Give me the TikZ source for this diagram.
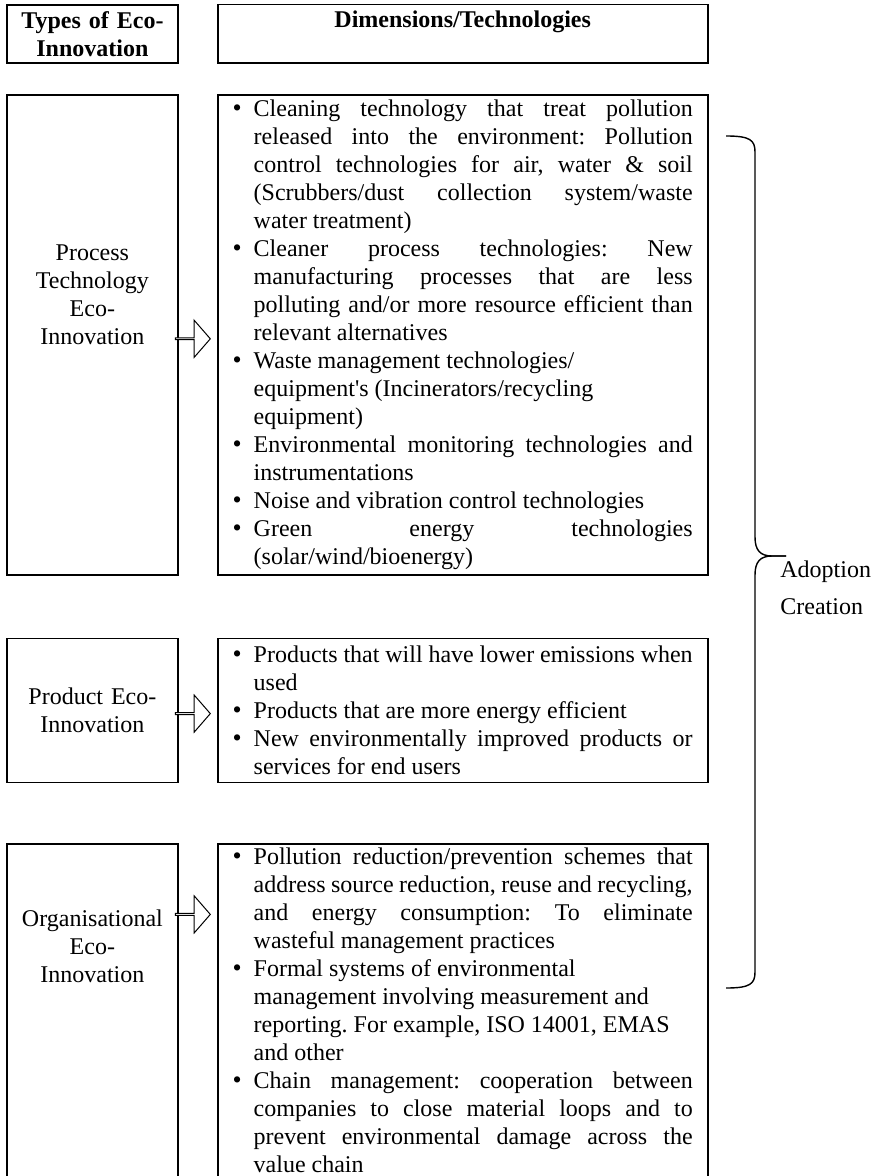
\documentclass[tikz,border=0pt]{standalone}
\usepackage{fontspec}
\setmainfont{Liberation Serif}
\usetikzlibrary{positioning,shapes.arrows}
\hyphenpenalty=10000
\exhyphenpenalty=10000
\tolerance=9999
\parindent=0pt
\frenchspacing
\tikzset{%
  typeBox/.style={%
    rectangle,
    draw=black,
    line width=0.9pt,
    text width=79.5pt,
    inner xsep=3pt,
    inner ysep=3pt,
    align=center
  },
  headBox/.style={%
    typeBox,
    minimum height=29pt,
    font=\fontsize{12pt}{14pt}\selectfont\bfseries
  },
  dimBox/.style={%
    rectangle,
    draw=black,
    line width=0.9pt,
    text width=230pt,
    inner xsep=7.5pt,
    inner ysep=2pt,
    align=justify
  },
  blockArrow/.style={%
    single arrow,
    draw=black,
    fill=white,
    line width=0.5pt,
    minimum height=17.5pt,
    minimum width=18.5pt,
    single arrow head extend=4.75pt,
    single arrow tip angle=98,
    inner sep=0pt
  },
  braceLine/.style={%
    line width=0.7pt,
    draw=black
  },
  sideLabel/.style={%
    anchor=west,
    inner sep=0pt
  }
}
\newcommand{\bulletItem}[1]{\hangindent=10.5pt\hangafter=1\noindent\makebox[10.5pt][l]{\smash{\fontsize{13pt}{14pt}\selectfont\textbullet}}#1\par}

\begin{document}
\begin{tikzpicture}[x=0.5pt,y=-0.5pt,font=\fontsize{12pt}{14pt}\selectfont]
  \useasboundingbox (0,0) rectangle (878,1176);

  % header row
  \node[headBox, anchor=north west] (typeHead) at (6,4) {Types of Eco-\\Innovation};
  \node[headBox, text width=230pt, inner xsep=7.5pt, text depth=15pt, right=19pt of typeHead] (dimHead) {Dimensions/Technologies};

  % process eco-innovation
  \node[typeBox, text height=80pt, text depth=154pt, below=15pt of typeHead] (procType) {Process\\Technology\\Eco-\\Innovation};
  \node[dimBox, minimum height=240pt, right=19pt of procType] (procDim) {%
    \bulletItem{Cleaning technology that treat pollution\linebreak released into the environment: Pollution\linebreak control technologies for air, water \& soil\linebreak (Scrubbers/dust collection system/waste\linebreak water treatment)}
    \bulletItem{Cleaner process technologies: New\linebreak manufacturing processes that are less\linebreak polluting and/or more resource efficient than\linebreak relevant alternatives}
    \bulletItem{Waste management technologies/\newline equipment\textquotesingle s (Incinerators/recycling\newline equipment)}
    \bulletItem{Environmental monitoring technologies and\linebreak instrumentations}
    \bulletItem{Noise and vibration control technologies}
    \bulletItem{Green energy technologies\linebreak (solar/wind/bioenergy)}};

  % product eco-innovation
  \node[typeBox, minimum height=72pt, below=31pt of procType] (prodType) {Product Eco-\\Innovation};
  \node[dimBox, minimum height=72pt, right=19pt of prodType] (prodDim) {%
    \bulletItem{Products that will have lower emissions when\linebreak used}
    \bulletItem{Products that are more energy efficient}
    \bulletItem{New environmentally improved products or\linebreak services for end users}};

  % organisational eco-innovation
  \node[typeBox, text height=38pt, text depth=127pt, below=30pt of prodType] (orgType) {Organisational\\Eco-\\Innovation};
  \node[dimBox, anchor=north west] (orgDim) at ([xshift=19pt]orgType.north east) {%
    \bulletItem{Pollution reduction/prevention schemes that\linebreak address source reduction, reuse and recycling,\linebreak and energy consumption: To eliminate\linebreak wasteful management practices}
    \bulletItem{Formal systems of environmental\newline management involving measurement and\newline reporting. For example, ISO 14001, EMAS\newline and other}
    \bulletItem{Chain management: cooperation between\linebreak companies to close material loops and to\linebreak prevent environmental damage across the\linebreak value chain}};

  % block arrows
  \node[blockArrow, anchor=west] (procArrow) at ([xshift=-2pt, yshift=-122.5pt]procType.north east) {};
  \node[blockArrow, anchor=west] (prodArrow) at ([xshift=-2pt, yshift=-38pt]prodType.north east) {};
  \node[blockArrow, anchor=west] (orgArrow) at ([xshift=-2pt, yshift=-35.5pt]orgType.north east) {};

  % brace
  \coordinate (brTop) at (726,136);
  \coordinate (brTip) at (786,556);
  \coordinate (brBot) at (726,988);
  \draw[braceLine] (brTop) .. controls (750,136) and (755,140) .. (755,152) -- (755,537) .. controls (755,550) and (760,556) .. (772,556) -- (brTip);
  \draw[braceLine] (brTip) -- (772,556) .. controls (760,556) and (755,562) .. (755,575) -- (755,972) .. controls (755,984) and (750,988) .. (brBot);

  \node[sideLabel] (adopt) at (780,572) {Adoption};
  \node[sideLabel] (create) at (780,607) {Creation};
\end{tikzpicture}
\end{document}
